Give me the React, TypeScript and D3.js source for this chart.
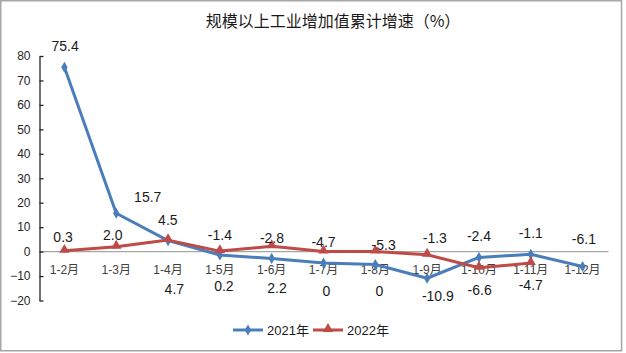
import React from 'react';
import * as d3 from 'd3';

// Cumulative growth of industrial value added, 2021 vs 2022 (Excel-style line chart).

const categories = ['1-2月', '1-3月', '1-4月', '1-5月', '1-6月', '1-7月', '1-8月', '1-9月', '1-10月', '1-11月', '1-12月'];
const values2021 = [75.4, 15.7, 4.5, -1.4, -2.8, -4.7, -5.3, -10.9, -2.4, -1.1, -6.1];
const values2022 = [0.3, 2.0, 4.7, 0.2, 2.2, 0, 0, -1.3, -6.6, -4.7];
const labels2021 = ['75.4', '15.7', '4.5', '-1.4', '-2.8', '-4.7', '-5.3', '-10.9', '-2.4', '-1.1', '-6.1'];
const labels2022 = ['0.3', '2.0', '4.7', '0.2', '2.2', '0', '0', '-1.3', '-6.6', '-4.7'];
const yTicks = [-20, -10, 0, 10, 20, 30, 40, 50, 60, 70, 80];

// hand-placed label offsets (px from the point), as in the original workbook
const offsets2021: [number, number][] = [
  [0.7, -21.3], [31.5, -16.5], [-0.2, -20.6], [0, -20], [0.3, -20.1], [0, -21.4],
  [8.3, -19.6], [10.7, 17.4], [0, -21.5], [0, -21], [1.3, -27.2],
];
const offsets2022: [number, number][] = [
  [-1.3, -13.6], [-3.5, -11.7], [6.3, 49.2], [4, 34.6], [5.3, 41.5], [3, 39],
  [4, 39], [7.7, -16.5], [0.7, 22.3], [0, 21.9],
];

const W = 626;
const H = 353;
const BLUE = '#4a7ebb';
const RED = '#be4b48';
const FONT = '"Liberation Sans", Arial, sans-serif';
const CJK = '"Noto Sans CJK SC", sans-serif';

function AxisY({ y, x0 }: { y: d3.ScaleLinear<number, number>; x0: number }) {
  const ref = React.useRef<SVGGElement>(null);
  React.useEffect(() => {
    const g = d3.select(ref.current!);
    g.call(d3.axisLeft(y).tickValues(yTicks).tickSizeInner(-4).tickSizeOuter(0).tickPadding(9));
    g.select('.domain').attr('stroke', '#262626').attr('stroke-width', 1.3);
    g.selectAll('.tick line').attr('stroke', '#262626').attr('stroke-width', 1.3);
    g.selectAll('.tick text')
      .attr('fill', '#262626')
      .style('font-family', FONT)
      .style('font-size', '12px');
  }, [y]);
  return <g ref={ref} transform={`translate(${x0},0)`} />;
}

export default function App() {
  const x = d3.scaleBand<string>().domain(categories).range([38.5, 608.5]);
  const cx = (c: string) => (x(c) ?? 0) + x.bandwidth() / 2;
  const y = d3.scaleLinear().domain([-20, 80]).range([300.5, 56]);

  const line = d3
    .line<number>()
    .x((_, i) => cx(categories[i]))
    .y((v) => y(v));

  const diamond = d3.symbol().type(d3.symbolDiamond).size(36)() ?? '';
  const triangle = d3.symbol().type(d3.symbolTriangle).size(46)() ?? '';

  return (
    <div style={{ position: 'fixed', left: 0, top: 0 }}>
      <svg width={W} height={H} style={{ display: 'block', background: '#fff' }}>
        <rect x={0.75} y={0.75} width={620.8} height={350} fill="#fff" stroke="#a6a6a6" strokeWidth={1.5} />
        <text
          x={333}
          y={27}
          textAnchor="middle"
          style={{ fontFamily: CJK, fontSize: 16, fill: '#1a1a1a' }}
        >
          规模以上工业增加值累计增速（%）
        </text>

        {/* zero baseline */}
        <line x1={40} x2={608.5} y1={y(0)} y2={y(0)} stroke="#a6a6a6" strokeWidth={1.3} />
        <AxisY y={y} x0={39.5} />

        {categories.map((c) => (
          <text
            key={c}
            x={cx(c)}
            y={y(0) + 22}
            textAnchor="middle"
            style={{ fontFamily: FONT, fontSize: 12, fill: '#404040' }}
          >
            {c.replace('月', '')}
            <tspan style={{ fontFamily: CJK }}>月</tspan>
          </text>
        ))}

        <path d={line(values2021) ?? ''} fill="none" stroke={BLUE} strokeWidth={3} strokeLinejoin="round" />
        <path d={line(values2022) ?? ''} fill="none" stroke={RED} strokeWidth={3} strokeLinejoin="round" />

        {values2021.map((v, i) => (
          <path key={`b${i}`} d={diamond} transform={`translate(${cx(categories[i])},${y(v)})`} fill={BLUE} />
        ))}
        {values2022.map((v, i) => (
          <path key={`r${i}`} d={triangle} transform={`translate(${cx(categories[i])},${y(v) - 1})`} fill={RED} />
        ))}

        {values2021.map((v, i) => (
          <text
            key={`lb${i}`}
            x={cx(categories[i]) + offsets2021[i][0]}
            y={y(v) + offsets2021[i][1]}
            dy="0.35em"
            textAnchor="middle"
            style={{ fontFamily: FONT, fontSize: 14, fill: '#1a1a1a' }}
          >
            {labels2021[i]}
          </text>
        ))}
        {values2022.map((v, i) => (
          <text
            key={`lr${i}`}
            x={cx(categories[i]) + offsets2022[i][0]}
            y={y(v) + offsets2022[i][1]}
            dy="0.35em"
            textAnchor="middle"
            style={{ fontFamily: FONT, fontSize: 14, fill: '#1a1a1a' }}
          >
            {labels2022[i]}
          </text>
        ))}

        {/* legend */}
        <g transform="translate(233,330)">
          <line x1={0} x2={30} y1={0} y2={0} stroke={BLUE} strokeWidth={3} />
          <path d={diamond} transform="translate(15,0)" fill={BLUE} />
          <text x={34} y={0} dy="0.35em" style={{ fontFamily: FONT, fontSize: 13, fill: '#1a1a1a' }}>
            2021<tspan style={{ fontFamily: CJK }}>年</tspan>
          </text>
          <line x1={80} x2={110} y1={0} y2={0} stroke={RED} strokeWidth={3} />
          <path d={triangle} transform="translate(95,-1)" fill={RED} />
          <text x={114} y={0} dy="0.35em" style={{ fontFamily: FONT, fontSize: 13, fill: '#1a1a1a' }}>
            2022<tspan style={{ fontFamily: CJK }}>年</tspan>
          </text>
        </g>
      </svg>
    </div>
  );
}
